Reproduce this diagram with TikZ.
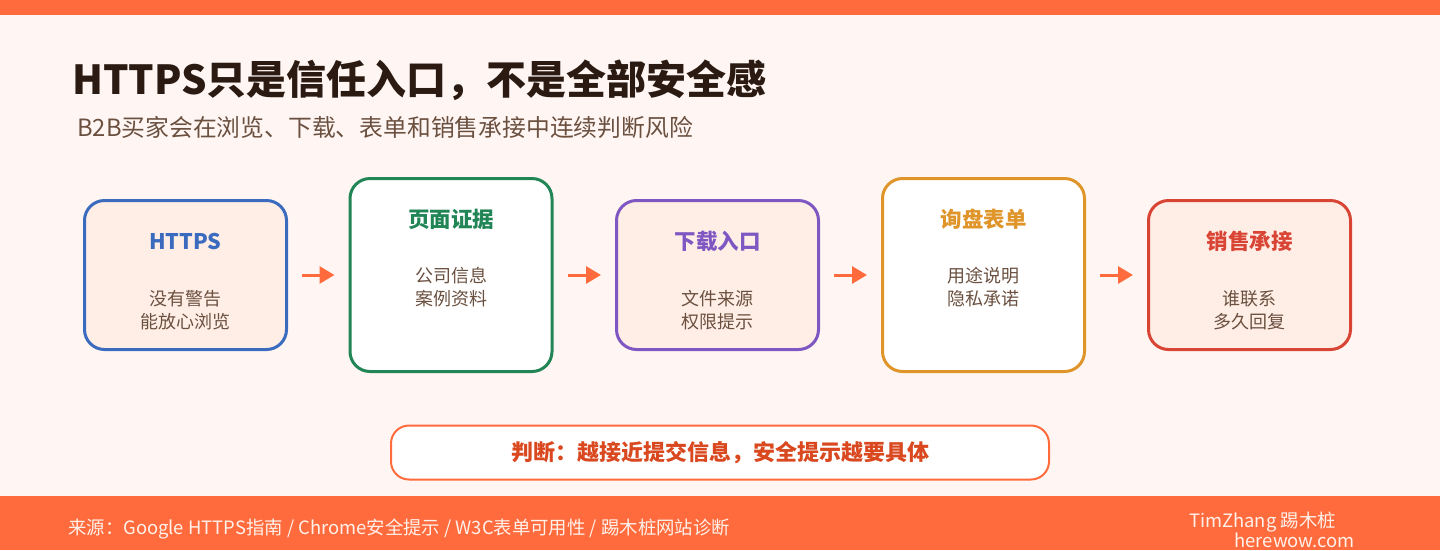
\documentclass[tikz,border=0pt]{standalone}
\usepackage{fontspec}
\setmainfont{Noto Sans CJK SC}
\usetikzlibrary{arrows.meta}
\definecolor{bg}{HTML}{FFF6F3}
\definecolor{accent}{HTML}{FF6B3D}
\definecolor{titlec}{HTML}{2A1A12}
\definecolor{subc}{HTML}{6B5040}
\definecolor{bodyc}{HTML}{6B5040}
\definecolor{peach}{HTML}{FFEEE6}
\definecolor{cblue}{HTML}{3A6BBF}
\definecolor{cgreen}{HTML}{218556}
\definecolor{cpurple}{HTML}{7E57C2}
\definecolor{corange}{HTML}{E0952A}
\definecolor{cred}{HTML}{D94535}
\definecolor{judgec}{HTML}{D9481F}
\definecolor{footc}{HTML}{FFF1EA}
\tikzset{
  card/.style={draw, line width=3pt, rounded corners=20pt, minimum width=202pt, inner sep=0pt},
  shortcard/.style={card, minimum height=149pt, fill=peach},
  tallcard/.style={card, minimum height=193pt, fill=white},
  cardtitle/.style={font=\fontsize{21.5}{25}\selectfont\bfseries, inner sep=0pt, anchor=center},
  cardbody/.style={font=\fontsize{18}{23}\selectfont, text=bodyc, align=center, inner sep=0pt, anchor=center},
  flow/.style={draw=accent, line width=3pt, -{Triangle[length=15pt,width=17pt]}, shorten <=14pt, shorten >=14pt},
  foot/.style={inner sep=0pt, text=footc, font=\fontsize{18.4}{22}\selectfont},
}
\begin{document}
\begin{tikzpicture}[x=1pt,y=-1pt]
\useasboundingbox (0,0) rectangle (1440,550);
\fill[bg] (0,0) rectangle (1440,550);
\fill[accent] (0,0) rectangle (1440,15);
\fill[accent] (0,496) rectangle (1440,550);

\node[anchor=west, inner sep=0pt, text=titlec, font=\fontsize{40}{46}\selectfont\bfseries] (title) at (72,80) {HTTPS只是信任入口，不是全部安全感};
\node[anchor=west, inner sep=0pt, text=subc, font=\fontsize{23.8}{28}\selectfont] (subtitle) at (77,127) {B2B买家会在浏览、下载、表单和销售承接中连续判断风险};

\node[shortcard, draw=cblue] (b1) at (185.5,275) {};
\node[tallcard, draw=cgreen] (b2) at (451,275) {};
\node[shortcard, draw=cpurple] (b3) at (717.5,275) {};
\node[tallcard, draw=corange] (b4) at (983.5,275) {};
\node[shortcard, draw=cred] (b5) at (1249.5,275) {};

\node[cardtitle, text=cblue] (t1) at (185.5,241) {HTTPS};
\node[cardbody] (d1) at (185.5,310) {没有警告\\能放心浏览};
\node[cardtitle, text=cgreen] (t2) at (451,219) {页面证据};
\node[cardbody] (d2) at (451,287) {公司信息\\案例资料};
\node[cardtitle, text=cpurple] (t3) at (717.5,241) {下载入口};
\node[cardbody] (d3) at (717.5,310) {文件来源\\权限提示};
\node[cardtitle, text=corange] (t4) at (983.5,219) {询盘表单};
\node[cardbody] (d4) at (983.5,287) {用途说明\\隐私承诺};
\node[cardtitle, text=cred] (t5) at (1249.5,241) {销售承接};
\node[cardbody] (d5) at (1249.5,310) {谁联系\\多久回复};

\draw[flow] (b1.east) -- (b2.west);
\draw[flow] (b2.east) -- (b3.west);
\draw[flow] (b3.east) -- (b4.west);
\draw[flow] (b4.east) -- (b5.west);

\node[draw=accent, line width=2pt, fill=white, rounded corners=18pt, minimum width=658pt, minimum height=54pt, inner sep=0pt] (judge) at (720,452.5) {};
\node[inner sep=0pt, text=judgec, font=\fontsize{22}{26}\selectfont\bfseries] (jt) at (720,452.5) {判断：越接近提交信息，安全提示越要具体};

\node[foot, anchor=west] (src) at (68,529) {来源：Google HTTPS指南 / Chrome安全提示 / W3C表单可用性 / 踢木桩网站诊断};
\node[foot, anchor=east] (author) at (1336,522) {TimZhang 踢木桩};
\node[foot, anchor=east] (site) at (1355,540) {herewow.com};
\end{tikzpicture}
\end{document}
